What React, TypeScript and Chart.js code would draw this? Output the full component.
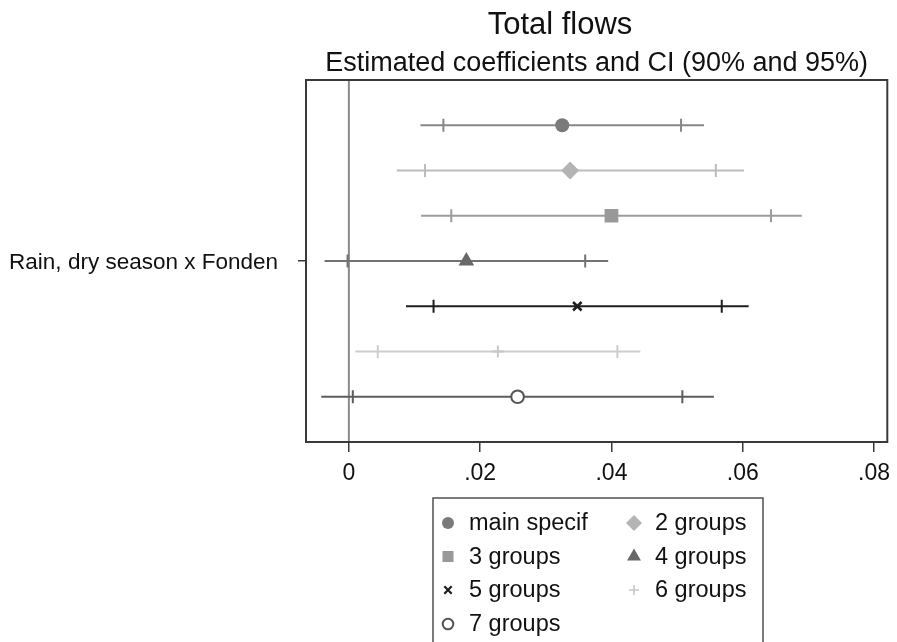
import React, { useEffect, useRef } from 'react';
import { Chart, registerables } from 'chart.js';

Chart.register(...registerables);

// ---- data ----
const seriesNames = ['main specif', '2 groups', '3 groups', '4 groups', '5 groups', '6 groups', '7 groups'];
const rowPositions = [1, 2, 3, 4, 5, 6, 7];
const coef = [0.0325, 0.0337, 0.04, 0.0179, 0.0348, 0.0227, 0.0257];
const lo95 = [0.0109, 0.0073, 0.011, -0.0037, 0.0087, 0.001, -0.0042];
const hi95 = [0.0541, 0.0602, 0.069, 0.0395, 0.0609, 0.0444, 0.0556];
const lo90 = [0.0144, 0.0116, 0.0156, -0.0002, 0.0129, 0.0044, 0.0006];
const hi90 = [0.0506, 0.0559, 0.0643, 0.036, 0.0568, 0.0409, 0.0508];
const xTicks = [0, 0.02, 0.04, 0.06, 0.08];
const xTickLabels = ['0', '.02', '.04', '.06', '.08'];
const yCategory = 'Rain, dry season x Fonden';
const titleText = 'Total flows';
const subtitleText = 'Estimated coefficients and CI (90% and 95%)';

// ---- styles ----
const FONT = "'Liberation Sans', Arial, Helvetica, sans-serif";
const lineColors = ['#878787', '#bcbcbc', '#9c9c9c', '#727272', '#1e1e1e', '#cdcdcd', '#5c5c5c'];
const markerColors = ['#7a7a7a', '#b4b4b4', '#999999', '#686868', '#1e1e1e', '#c8c8c8', '#555555'];
const markerStyles = ['circle', 'rectRot', 'rect', 'triangle', 'crossRot', 'cross', 'circle'];
const markerRadii = [7, 9, 9.7, 9, 6, 6, 6.3];
const legendRadii = [6, 8, 7.8, 8, 5.2, 5, 5.3];
const hollow = [false, false, false, false, false, false, true];

function drawMarker(ctx: CanvasRenderingContext2D, style: string, x: number, y: number, r: number, color: string, isHollow: boolean) {
  ctx.save();
  ctx.fillStyle = isHollow ? '#ffffff' : color;
  ctx.strokeStyle = color;
  ctx.lineWidth = style === 'crossRot' ? 2.2 : style === 'cross' ? 1.6 : 2;
  ctx.beginPath();
  if (style === 'circle') {
    ctx.arc(x, y, r, 0, Math.PI * 2);
    ctx.fill();
    if (isHollow) ctx.stroke();
  } else if (style === 'rectRot') {
    ctx.moveTo(x - r, y);
    ctx.lineTo(x, y - r);
    ctx.lineTo(x + r, y);
    ctx.lineTo(x, y + r);
    ctx.closePath();
    ctx.fill();
  } else if (style === 'rect') {
    const s = r * Math.SQRT1_2;
    ctx.rect(x - s, y - s, 2 * s, 2 * s);
    ctx.fill();
  } else if (style === 'triangle') {
    ctx.moveTo(x, y - r);
    ctx.lineTo(x + Math.sin((2 * Math.PI) / 3) * r, y + r / 2);
    ctx.lineTo(x - Math.sin((2 * Math.PI) / 3) * r, y + r / 2);
    ctx.closePath();
    ctx.fill();
  } else if (style === 'crossRot') {
    const d = r * Math.SQRT1_2;
    ctx.moveTo(x - d, y - d);
    ctx.lineTo(x + d, y + d);
    ctx.moveTo(x - d, y + d);
    ctx.lineTo(x + d, y - d);
    ctx.stroke();
  } else if (style === 'cross') {
    ctx.moveTo(x - r, y);
    ctx.lineTo(x + r, y);
    ctx.moveTo(x, y - r);
    ctx.lineTo(x, y + r);
    ctx.stroke();
  }
  ctx.restore();
}

const framePlugin = {
  id: 'frameAndExtras',
  beforeDatasetsDraw(chart: any) {
    const { ctx, chartArea, scales } = chart;
    ctx.save();
    const x0 = scales.x.getPixelForValue(0);
    ctx.strokeStyle = '#8a8a8a';
    ctx.lineWidth = 2;
    ctx.beginPath();
    ctx.moveTo(x0, chartArea.top);
    ctx.lineTo(x0, chartArea.bottom);
    ctx.stroke();
    ctx.restore();
  },
  afterDraw(chart: any) {
    const { ctx, chartArea } = chart;
    ctx.save();
    ctx.strokeStyle = '#3a3a3a';
    ctx.lineWidth = 2;
    ctx.strokeRect(chartArea.left, chartArea.top, chartArea.right - chartArea.left, chartArea.bottom - chartArea.top);

    ctx.fillStyle = '#111111';
    ctx.textAlign = 'center';
    ctx.textBaseline = 'alphabetic';
    ctx.font = `31px ${FONT}`;
    ctx.fillText(titleText, 560, 34);
    ctx.font = `27px ${FONT}`;
    ctx.fillText(subtitleText, (chartArea.left + chartArea.right) / 2, 71);

    const boxL = 433, boxT = 498, boxR = 763;
    ctx.strokeStyle = '#505050';
    ctx.lineWidth = 1.5;
    ctx.beginPath();
    ctx.moveTo(boxL, 660);
    ctx.lineTo(boxL, boxT);
    ctx.lineTo(boxR, boxT);
    ctx.lineTo(boxR, 660);
    ctx.stroke();
    const colMarkerX = [448, 634];
    const colTextX = [469, 655];
    const rowY = [523, 556.5, 590, 624];
    ctx.font = `23.5px ${FONT}`;
    ctx.textAlign = 'left';
    ctx.textBaseline = 'middle';
    seriesNames.forEach((name, i) => {
      const col = i % 2;
      const row = Math.floor(i / 2);
      drawMarker(ctx, markerStyles[i], colMarkerX[col], rowY[row], legendRadii[i], markerColors[i], hollow[i]);
      ctx.fillStyle = '#111111';
      ctx.fillText(name, colTextX[col], rowY[row] + 1);
    });
    ctx.restore();
  },
};

export default function App() {
  const canvasRef = useRef<HTMLCanvasElement | null>(null);

  useEffect(() => {
    if (!canvasRef.current) return;
    const datasets: any[] = [];
    seriesNames.forEach((name, i) => {
      const y = rowPositions[i];
      datasets.push({
        label: name + ' 95%',
        data: [{ x: lo95[i], y }, { x: hi95[i], y }],
        showLine: true,
        borderColor: lineColors[i],
        borderWidth: 2,
        pointRadius: 0,
        order: 3,
      });
      datasets.push({
        label: name + ' 90%',
        data: [{ x: lo90[i], y }, { x: hi90[i], y }],
        showLine: false,
        pointStyle: 'line',
        rotation: 90,
        pointRadius: 6.5,
        borderColor: lineColors[i],
        backgroundColor: lineColors[i],
        pointBorderWidth: 2,
        order: 2,
      });
      datasets.push({
        label: name,
        data: [{ x: coef[i], y }],
        showLine: false,
        pointStyle: markerStyles[i],
        pointRadius: markerRadii[i],
        backgroundColor: hollow[i] ? '#ffffff' : markerColors[i],
        borderColor: markerColors[i],
        pointBorderWidth: hollow[i] ? 2 : markerStyles[i] === 'crossRot' ? 2.5 : markerStyles[i] === 'cross' ? 2 : 0,
        order: 1,
      });
    });

    const chart = new Chart(canvasRef.current, {
      type: 'scatter',
      data: { datasets },
      options: {
        animation: false,
        responsive: false,
        layout: { padding: { top: 80, right: 8, left: 0, bottom: 0 } },
        plugins: { legend: { display: false }, tooltip: { enabled: false }, title: { display: false } },
        scales: {
          x: {
            type: 'linear',
            min: -0.00653,
            max: 0.08202,
            afterBuildTicks: (scale: any) => {
              scale.ticks = xTicks.map((v) => ({ value: v }));
            },
            afterFit: (scale: any) => {
              scale.height = 200;
              scale.paddingLeft = 0;
              scale.paddingRight = 0;
            },
            border: { display: false },
            grid: { display: true, drawOnChartArea: false, drawTicks: true, tickLength: 10, color: '#3a3a3a', lineWidth: 1.5 },
            ticks: {
              autoSkip: false,
              maxRotation: 0,
              padding: 8,
              color: '#111111',
              font: { family: FONT, size: 23 },
              callback: (_v: any, idx: number) => xTickLabels[idx],
            },
          },
          y: {
            type: 'linear',
            min: 0,
            max: 8,
            reverse: true,
            afterBuildTicks: (scale: any) => {
              scale.ticks = [{ value: 4 }];
            },
            afterFit: (scale: any) => {
              scale.width = 306;
              scale.paddingTop = 0;
              scale.paddingBottom = 0;
            },
            border: { display: false },
            grid: { display: true, drawOnChartArea: false, drawTicks: true, tickLength: 8, color: '#3a3a3a', lineWidth: 1.5 },
            ticks: {
              autoSkip: false,
              padding: 20,
              labelOffset: 2,
              color: '#111111',
              font: { family: FONT, size: 22.5 },
              callback: () => yCategory,
            },
          },
        },
      },
      plugins: [framePlugin],
    } as any);
    return () => chart.destroy();
  }, []);

  return (
    <div style={{ position: 'fixed', left: 0, top: 0, width: 897, height: 642, background: '#ffffff' }}>
      <canvas ref={canvasRef} width={897} height={642} style={{ display: 'block', width: 897, height: 642 }} />
    </div>
  );
}
